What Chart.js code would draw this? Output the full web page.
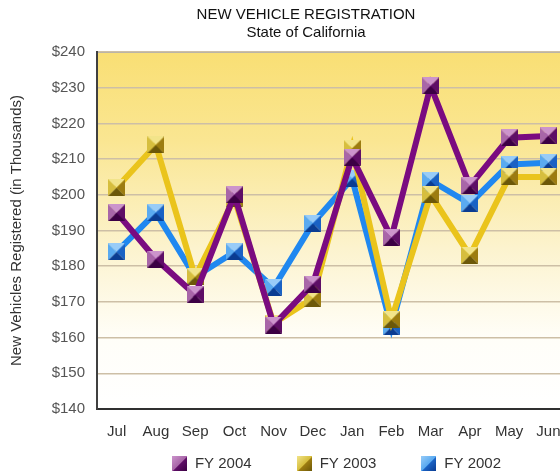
<!DOCTYPE html>
<html><head><meta charset="utf-8">
<script src="https://cdn.jsdelivr.net/npm/chart.js@4.4.1/dist/chart.umd.min.js"></script>
<style>html,body{margin:0;padding:0;overflow:hidden;background:#fff;width:560px;height:474px}canvas{display:block}</style>
</head><body>
<canvas id="c" width="582" height="474" style="width:582px;height:474px"></canvas>
<script>
const months = ['Jul','Aug','Sep','Oct','Nov','Dec','Jan','Feb','Mar','Apr','May','Jun'];
const fy2004 = [195, 182, 172, 200, 163.5, 175, 210.5, 188, 230.5, 202.5, 216, 216.5];
const fy2003 = [202, 214, 177, 199, 164, 171, 213, 165, 200, 183, 205, 205];
const fy2002 = [184, 195, 177, 184, 174, 192, 204.5, 163, 204, 197.5, 208.5, 209];
const yTicks = [140,150,160,170,180,190,200,210,220,230,240];
const FONT = '"Liberation Sans", Arial, sans-serif';

function marker(sz, c){
  const cv=document.createElement('canvas'); cv.width=sz; cv.height=sz;
  const x=cv.getContext('2d'); const m=sz/2;
  const tri=(pts,col)=>{x.beginPath();x.moveTo(pts[0],pts[1]);x.lineTo(pts[2],pts[3]);x.lineTo(pts[4],pts[5]);x.closePath();x.fillStyle=col;x.fill();};
  tri([0,0,sz,0,m,m],c[0]);
  tri([0,0,0,sz,m,m],c[1]);
  tri([sz,0,sz,sz,m,m],c[2]);
  tri([0,sz,sz,sz,m,m],c[3]);
  return cv;
}
function legendIcon(sz, c){
  const cv=document.createElement('canvas'); cv.width=sz; cv.height=sz;
  const x=cv.getContext('2d');
  const g=x.createLinearGradient(0,0,sz,sz);g.addColorStop(0,c[0]);g.addColorStop(0.5,c[1]);g.addColorStop(0.55,c[2]);g.addColorStop(1,c[3]);
  x.fillStyle=g;x.fillRect(0,0,sz,sz);
  return cv;
}
const purpleC=['#CC94CC','#A866A8','#5E0E66','#3C0044'];
const goldC=['#F2E48A','#D6BE3E','#9C7C10','#6C5808'];
const blueC=['#98CCF8','#5AAAF0','#1A62C4','#0A3C92'];
const mk = {p:marker(17,purpleC), g:marker(17,goldC), b:marker(17,blueC)};
const lg = {p:legendIcon(15,purpleC), g:legendIcon(15,goldC), b:legendIcon(15,blueC)};

const bgPlugin={id:'bg',beforeDraw(ch){
  const a=ch.chartArea,ctx=ch.ctx;
  const g=ctx.createLinearGradient(0,a.top,0,a.bottom);
  g.addColorStop(0,'#F9DF74');
  g.addColorStop(0.25,'#FAE692');
  g.addColorStop(0.55,'#FCF3CE');
  g.addColorStop(0.8,'#FFFEF8');
  g.addColorStop(1,'#FFFFFF');
  ctx.save();ctx.fillStyle=g;ctx.fillRect(a.left,a.top,a.right-a.left,a.bottom-a.top);
  ctx.strokeStyle='#A8A8A8';ctx.lineWidth=1;ctx.beginPath();ctx.moveTo(a.left,a.top+0.5);ctx.lineTo(a.right,a.top+0.5);ctx.stroke();
  ctx.restore();
}};

const legendPlugin={id:'customLegend',afterDraw(ch){
  const ctx=ch.ctx,a=ch.chartArea;
  ctx.save();
  ctx.font='15px '+FONT;ctx.textBaseline='middle';ctx.fillStyle='#333';
  const items=ch.data.datasets.map(d=>({icon:d.lgIcon,text:d.label,w:15+8+ctx.measureText(d.label).width}));
  const gap=45;
  const total=items.reduce((s,i)=>s+i.w,0)+gap*(items.length-1);
  let x=(a.left+a.right)/2+4-total/2; const y=463;
  items.forEach(it=>{
    ctx.drawImage(it.icon,Math.round(x),y-7);
    ctx.fillText(it.text,x+23,y+1);
    x+=it.w+gap;
  });
  ctx.restore();
}};

new Chart(document.getElementById('c'),{
  type:'line',
  data:{labels:months,datasets:[
    {label:'FY 2004',data:fy2004,borderColor:'#7A0B80',borderWidth:6,pointStyle:mk.p,pointRadius:8,tension:0,lgIcon:lg.p},
    {label:'FY 2003',data:fy2003,borderColor:'#EAC41C',borderWidth:6,pointStyle:mk.g,pointRadius:8,tension:0,lgIcon:lg.g},
    {label:'FY 2002',data:fy2002,borderColor:'#2088F0',borderWidth:6,pointStyle:mk.b,pointRadius:8,tension:0,lgIcon:lg.b}
  ]},
  options:{
    responsive:false,animation:false,
    layout:{padding:{top:0,bottom:19,left:30,right:0}},
    plugins:{
      title:{display:true,fullSize:true,text:['NEW VEHICLE REGISTRATION','State of California'],color:'#111',
        font:{family:FONT,size:15,weight:'normal',lineHeight:1.2},padding:{top:6,bottom:10}},
      legend:{display:false},
      tooltip:{enabled:false}
    },
    scales:{
      x:{offset:true,grid:{display:false,drawTicks:false},border:{color:'#303030',width:2},
        ticks:{color:'#333',font:{family:FONT,size:15},padding:14}},
      y:{min:140,max:240,
        afterBuildTicks(s){s.ticks=yTicks.map(v=>({value:v}));},
        afterFit(s){s.width=67;},
        grid:{color:'#CDBFA6',lineWidth:1.5,drawTicks:false},border:{color:'#404040',width:2},
        ticks:{color:'#555',font:{family:FONT,size:15},padding:12,callback:v=>'$'+v},
        title:{display:true,text:'New Vehicles Registered (in Thousands)',color:'#333',font:{family:FONT,size:15},padding:{top:-22,bottom:0}}}
    }
  },
  plugins:[bgPlugin,legendPlugin]
});
</script>
</body></html>
